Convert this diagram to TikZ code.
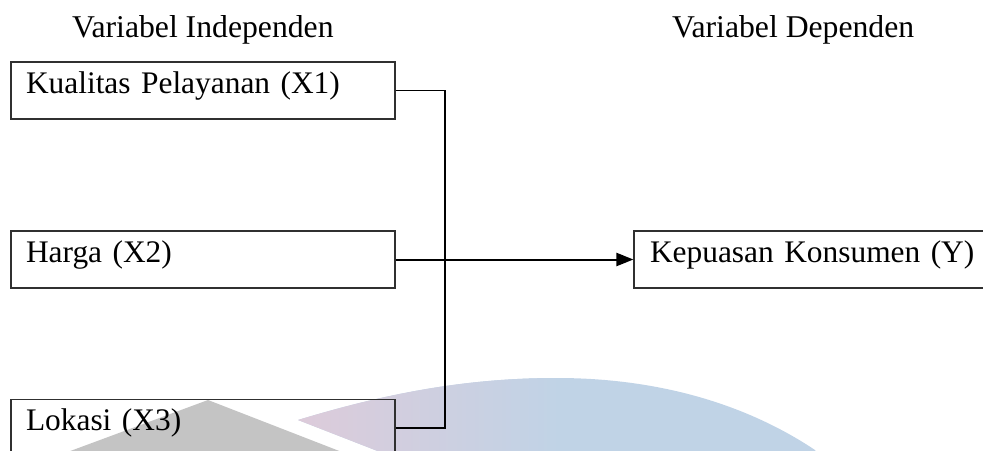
\documentclass[tikz,border=0pt]{standalone}
\usepackage{fontspec}
\setmainfont{Liberation Serif}
\usetikzlibrary{arrows.meta}
\definecolor{wmgray}{HTML}{C4C4C4}
\definecolor{wmpink}{HTML}{DDCBDA}
\definecolor{wmblue}{HTML}{C0D3E6}
\definecolor{boxline}{HTML}{303030}
\tikzset{
  lbl/.style={font=\fontsize{31.7}{38}\selectfont, inner sep=0pt},
  varbox/.style={draw=boxline, line width=1.1pt, rectangle, minimum width=384pt, minimum height=57pt,
    text width=354pt, align=left, inner xsep=15pt, inner ysep=0pt,
    text height=22pt, text depth=17pt, font=\fontsize{31.4}{38}\selectfont},
  conn/.style={draw=black, line width=1.4pt},
  arrowline/.style={draw=black, line width=2pt, -{Triangle[length=17pt,width=13pt]}}
}
\begin{document}
\begin{tikzpicture}[x=1pt,y=-1pt]
\useasboundingbox (0,0) rectangle (983,450);
\clip (0,0) rectangle (983,450);
% watermark
\fill[wmgray] (208,400) -- (-8,480) -- (414,480) -- cycle;
\begin{scope}
  \clip (298,420) .. controls (390,392) and (470,378) .. (557,378)
        .. controls (650,378) and (740,400) .. (815,450) -- (830,480) -- (452,480) -- cycle;
  \fill[wmblue] (290,370) rectangle (840,480);
  \shade[left color=wmpink, right color=wmblue] (298,370) rectangle (560,480);
\end{scope}
% headers
\node[lbl, anchor=base west] (hind) at (72,37) {Variabel Independen};
\node[lbl, anchor=base west] (hdep) at (672,37) {Variabel Dependen};
% boxes
\node[varbox] (x1) at (203,90.5) {Kualitas Pelayanan (X1)};
\node[varbox] (x2) at (203,259.5) {Harga (X2)};
\node[varbox] (x3) at (203,428) {Lokasi (X3)};
\node[varbox, inner xsep=16pt, text width=352pt] (y) at (826,259.5) {Kepuasan Konsumen (Y)};
% connectors
\coordinate (bus) at (445,0);
\draw[conn] (x1.east) -- (x1.east -| bus) -- (x3.east -| bus) -- (x3.east);
\draw[arrowline] (x2.east) -- (y.west);
\end{tikzpicture}
\end{document}
